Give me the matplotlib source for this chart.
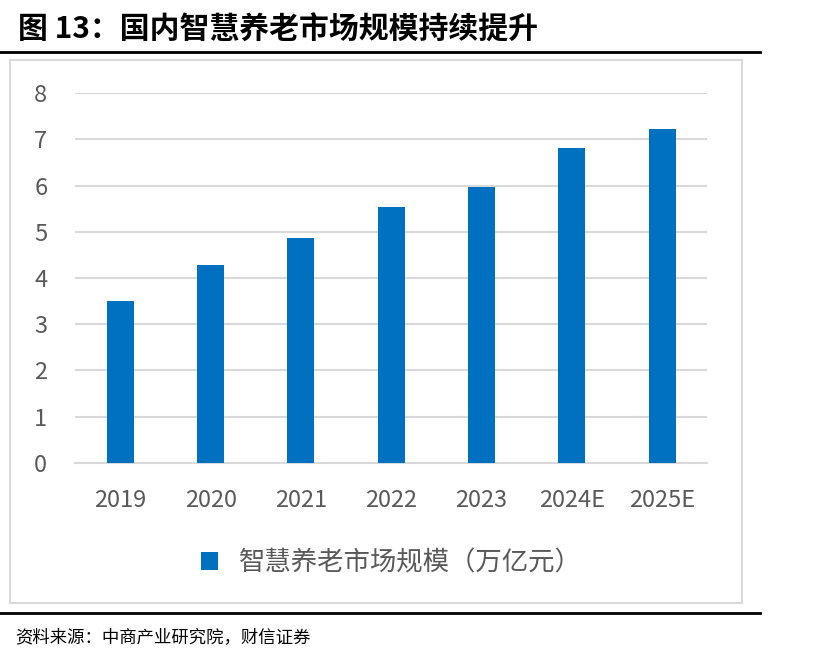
import matplotlib.pyplot as plt
from matplotlib.patches import Rectangle
from matplotlib.lines import Line2D

plt.rcParams['font.family'] = ['Noto Sans CJK SC', 'DejaVu Sans']

years = ["2019", "2020", "2021", "2022", "2023", "2024E", "2025E"]
market_size = [3.5, 4.28, 4.86, 5.53, 5.97, 6.82, 7.22]
y_ticks = [0, 1, 2, 3, 4, 5, 6, 7, 8]
series_name = "智慧养老市场规模（万亿元）"
title = "图 13：国内智慧养老市场规模持续提升"
source = "资料来源：中商产业研究院，财信证券"

blue = "#0070C0"
grey_text = "#595959"
grid_col = "#D9D9D9"

fig = plt.figure(figsize=(8.35, 6.65), dpi=100)

# outer chart frame
frame = Rectangle((0.012, 0.093), 0.877, 0.817, transform=fig.transFigure,
                  facecolor="white", edgecolor=grid_col, linewidth=1.5, zorder=-1)
fig.patches.append(frame)
fig.lines.append(Line2D([0, 0.91], [0.922, 0.922], transform=fig.transFigure, color="black", linewidth=2))
fig.lines.append(Line2D([0, 0.91], [0.078, 0.078], transform=fig.transFigure, color="black", linewidth=2))

fig.text(0.022, 0.955, title, fontsize=21.5, fontweight="bold", va="center", ha="left")
fig.text(0.018, 0.042, source, fontsize=12.5, style="italic", va="center", ha="left")

ax = fig.add_axes([0.09, 0.304, 0.757, 0.556], zorder=2)
x = range(len(years))
ax.bar(x, market_size, width=0.3, color=blue, label=series_name, zorder=3)
ax.set_xlim(-0.5, len(years) - 0.5)
ax.set_ylim(0, 8)
ax.set_yticks(y_ticks)
ax.set_xticks(list(x))
ax.set_xticklabels(years)
ax.grid(axis="y", color=grid_col, linewidth=1.5, zorder=0)
for s in ["top", "right", "left"]:
    ax.spines[s].set_visible(False)
ax.spines["bottom"].set_color(grid_col)
ax.spines["bottom"].set_linewidth(1.5)
ax.tick_params(axis="both", length=0, labelsize=17, colors=grey_text)
ax.tick_params(axis="y", pad=20)
ax.tick_params(axis="x", pad=19)
ax.patch.set_alpha(0)

ax.legend(loc="center", bbox_to_anchor=(0.5, -0.27), frameon=False, fontsize=19,
          handlelength=0.65, handleheight=0.65, handletextpad=0.8, labelcolor=grey_text)

fig.savefig("out.png", dpi=100)
